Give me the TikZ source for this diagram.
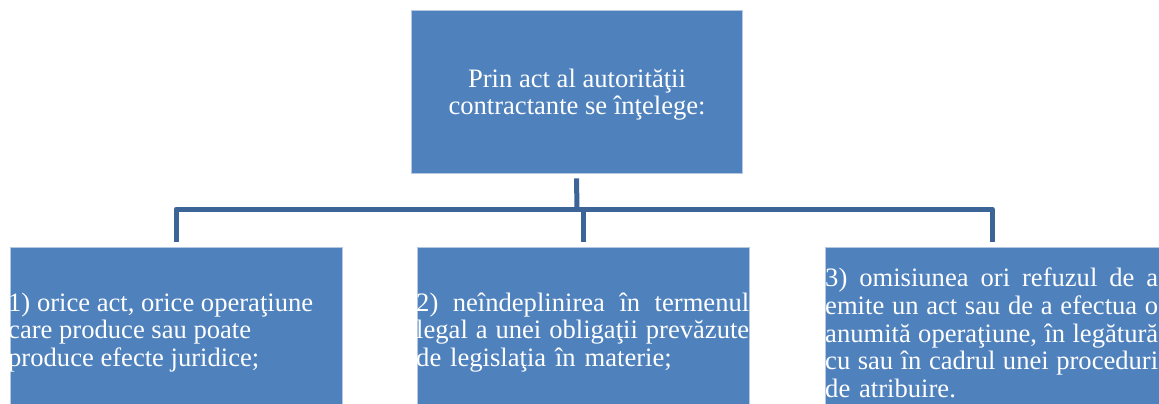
\documentclass[tikz,border=0pt]{standalone}
\usepackage{fontspec}
\setmainfont{Liberation Serif}
\definecolor{boxblue}{RGB}{79,129,189}
\definecolor{boxedge}{RGB}{180,200,228}
\definecolor{connblue}{RGB}{60,100,150}
\newcommand{\jline}[1]{\makebox[333pt][s]{\spaceskip=0.25em plus 1fil minus 0.1em\relax #1}}
\tikzset{
  box/.style={fill=boxblue, draw=boxedge, line width=0.6pt, inner sep=0pt},
  txt/.style={text=white, inner sep=0pt, align=left, font=\fontsize{26.6}{27.6}\selectfont},
  conn/.style={draw=connblue, line width=5pt, line join=round}
}
\begin{document}
\begin{tikzpicture}[x=1pt,y=-1pt]
\useasboundingbox (0,0) rectangle (1159,404);
% boxes
\node[box, minimum width=331pt, minimum height=163pt] (top) at (576.5,91.5) {};
\node[box, minimum width=332pt, minimum height=157pt] (b1) at (176,325.5) {};
\node[box, minimum width=332pt, minimum height=157pt] (b2) at (583,325.5) {};
\node[box, minimum width=334pt, minimum height=157pt] (b3) at (992,325.5) {};
% texts
\node[txt, align=center] (t0) at (577,94.5) {Prin act al autorităţii\\contractante se înţelege:};
\node[txt, anchor=west] (t1) at (8,332.5) {1) orice act, orice operaţiune\\care produce sau poate\\produce efecte juridice;};
\node[txt, anchor=west, text width=333pt] (t2) at (416,332.5) {\jline{2) neîndeplinirea în termenul}\\\jline{legal a unei obligaţii prevăzute}\\de legislaţia în materie;};
\node[txt, anchor=west, text width=333pt] (t3) at (825,333) {\jline{3) omisiunea ori refuzul de a}\\\jline{emite un act sau de a efectua o}\\\jline{anumită operaţiune, în legătură}\\\jline{cu sau în cadrul unei proceduri}\\de atribuire.};
% connectors
\coordinate (hub) at (577,209);
\draw[conn] ([yshift=-5pt]top.south) -- (hub);
\draw[conn] ([yshift=5pt]b1.north) -- (b1.north |- hub) -- (b3.north |- hub) -- ([yshift=5pt]b3.north);
\draw[conn] (b2.north |- hub) -- ([yshift=5pt]b2.north);
\end{tikzpicture}
\end{document}
